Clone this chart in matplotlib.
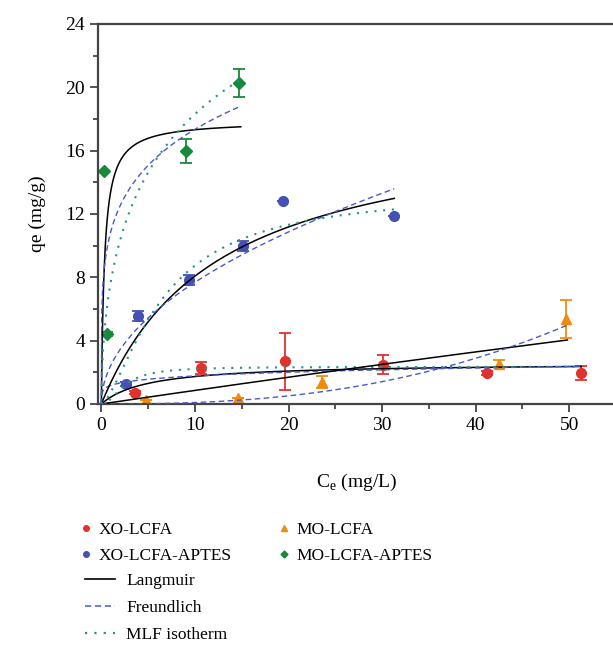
import numpy as np
import matplotlib
matplotlib.use("Agg")
import matplotlib.pyplot as plt
from matplotlib.lines import Line2D

plt.rcParams['font.family'] = ['Liberation Serif', 'DejaVu Serif']
plt.rcParams['mathtext.fontset'] = 'custom'
plt.rcParams['mathtext.rm'] = 'Liberation Serif'

# measured points (Ce, qe, error)
xo_ce = [3.6, 10.6, 19.6, 30.1, 41.2, 51.2]
xo_qe = [0.72, 2.27, 2.7, 2.48, 1.96, 1.94]
xo_err = [0.1, 0.35, 1.8, 0.6, 0.12, 0.45]

xoa_ce = [2.6, 3.95, 9.4, 15.1, 19.4, 31.3]
xoa_qe = [1.26, 5.56, 7.83, 9.98, 12.82, 11.86]
xoa_err = [0.1, 0.3, 0.3, 0.3, 0.0, 0.0]

mo_ce = [4.8, 14.6, 23.6, 42.5, 49.7]
mo_qe = [0.25, 0.37, 1.41, 2.53, 5.37]
mo_err = [0.0, 0.0, 0.37, 0.22, 1.18]

moa_ce = [0.3, 0.6, 9.0, 14.7]
moa_qe = [14.72, 4.4, 16.0, 20.25]
moa_err = [0.0, 0.12, 0.76, 0.88]

# fitted isotherm parameters, order: XO-LCFA, XO-LCFA-APTES, MO-LCFA, MO-LCFA-APTES
ce_max = [51.3, 31.3, 49.8, 14.9]
lang_qm = [2.6, 18.17, 60.0, 17.9]
lang_k = [0.2, 0.08, 0.00145, 3.0]
freu_kf = [1.17, 2.43, 2.96e-4, 10.87]
freu_n = [0.18, 0.5, 2.49, 0.203]
# MLF (Langmuir-Freundlich); no separate curve visible for MO-LCFA
mlf_qm = [2.35, 13.5, None, 40.0]
mlf_k = [0.4, 0.15, None, 0.0735]
mlf_n = [2.0, 1.5, None, 0.55]

fig = plt.figure(figsize=(6.13, 6.5), dpi=100)
ax = fig.add_axes([0.16, 0.3785, 0.845, 0.5846])

c_red = '#e0312d'
c_blue = '#4450b4'
c_orange = '#f28a0c'
c_green = '#17893b'
c_dash = '#4a58cc'
c_dot = '#1f9490'

ax.errorbar(xo_ce, xo_qe, yerr=xo_err, fmt='o', ms=7, color=c_red, ecolor=c_red,
            elinewidth=1.3, capsize=4, capthick=1.3, zorder=2)
ax.errorbar(xoa_ce, xoa_qe, yerr=xoa_err, fmt='o', ms=7, color=c_blue, ecolor=c_blue,
            elinewidth=1.3, capsize=4, capthick=1.3, zorder=2)
ax.errorbar(mo_ce, mo_qe, yerr=mo_err, fmt='^', ms=7.5, color=c_orange, ecolor=c_orange,
            elinewidth=1.3, capsize=4, capthick=1.3, zorder=2)
ax.errorbar(moa_ce, moa_qe, yerr=moa_err, fmt='D', ms=6.5, color=c_green, ecolor=c_green,
            elinewidth=1.3, capsize=4, capthick=1.3, zorder=2)

for i in range(4):
    c = np.linspace(0, ce_max[i], 400)
    q_l = lang_qm[i] * lang_k[i] * c / (1 + lang_k[i] * c)
    ax.plot(c, q_l, color='black', lw=1.1, zorder=3)
    q_f = freu_kf[i] * c ** freu_n[i]
    ax.plot(c, q_f, color=c_dash, lw=1.0, dashes=(4, 2.5), zorder=3)
    if mlf_qm[i] is not None:
        kc = (mlf_k[i] * c) ** mlf_n[i]
        q_m = mlf_qm[i] * kc / (1 + kc)
        ax.plot(c, q_m, color=c_dot, lw=1.5, dashes=(1, 3.2), zorder=3)

ax.set_xlim(-0.35, 55)
ax.set_ylim(0, 24)
ax.set_xticks(np.arange(0, 51, 10))
ax.set_xticks(np.arange(5, 56, 10), minor=True)
ax.set_yticks(np.arange(0, 25, 4))
ax.set_yticks(np.arange(2, 24, 4), minor=True)
ax.tick_params(which='major', direction='out', length=6, width=1.3, labelsize=14, color='#444444')
ax.tick_params(which='minor', direction='out', length=3.5, width=1.3, color='#444444')
ax.spines['right'].set_visible(False)
for s in ['left', 'bottom', 'top']:
    ax.spines[s].set_linewidth(1.6)
    ax.spines[s].set_color('#444444')

ax.set_ylabel('qe (mg/g)', fontsize=14, labelpad=14)
ax.set_xlabel(r'C$_\mathregular{e}$ (mg/L)', fontsize=14, labelpad=27)

mk = [Line2D([], [], ls='none', marker='o', ms=4, color=c_red),
      Line2D([], [], ls='none', marker='o', ms=4, color=c_blue),
      Line2D([], [], ls='none', marker='^', ms=4, color=c_orange),
      Line2D([], [], ls='none', marker='D', ms=3.5, color=c_green)]
leg1 = fig.legend(mk, ['XO-LCFA', 'XO-LCFA-APTES', 'MO-LCFA', 'MO-LCFA-APTES'],
                  ncol=2, loc='upper left', bbox_to_anchor=(0.117, 0.211), frameon=False,
                  fontsize=12.5, handlelength=0.6, handletextpad=0.45, columnspacing=2.7,
                  labelspacing=0.6, borderpad=0)
ln = [Line2D([], [], color='black', lw=1.2),
      Line2D([], [], color=c_dash, lw=1.1, dashes=(4, 2.5)),
      Line2D([], [], color=c_dot, lw=1.6, dashes=(1, 3.2))]
leg2 = fig.legend(ln, ['Langmuir', 'Freundlich', 'MLF isotherm'], loc='upper left',
                  bbox_to_anchor=(0.124, 0.132), frameon=False, fontsize=12.5,
                  handlelength=1.75, handletextpad=0.65, labelspacing=0.62, borderpad=0)

fig.savefig('out.png', dpi=100)
